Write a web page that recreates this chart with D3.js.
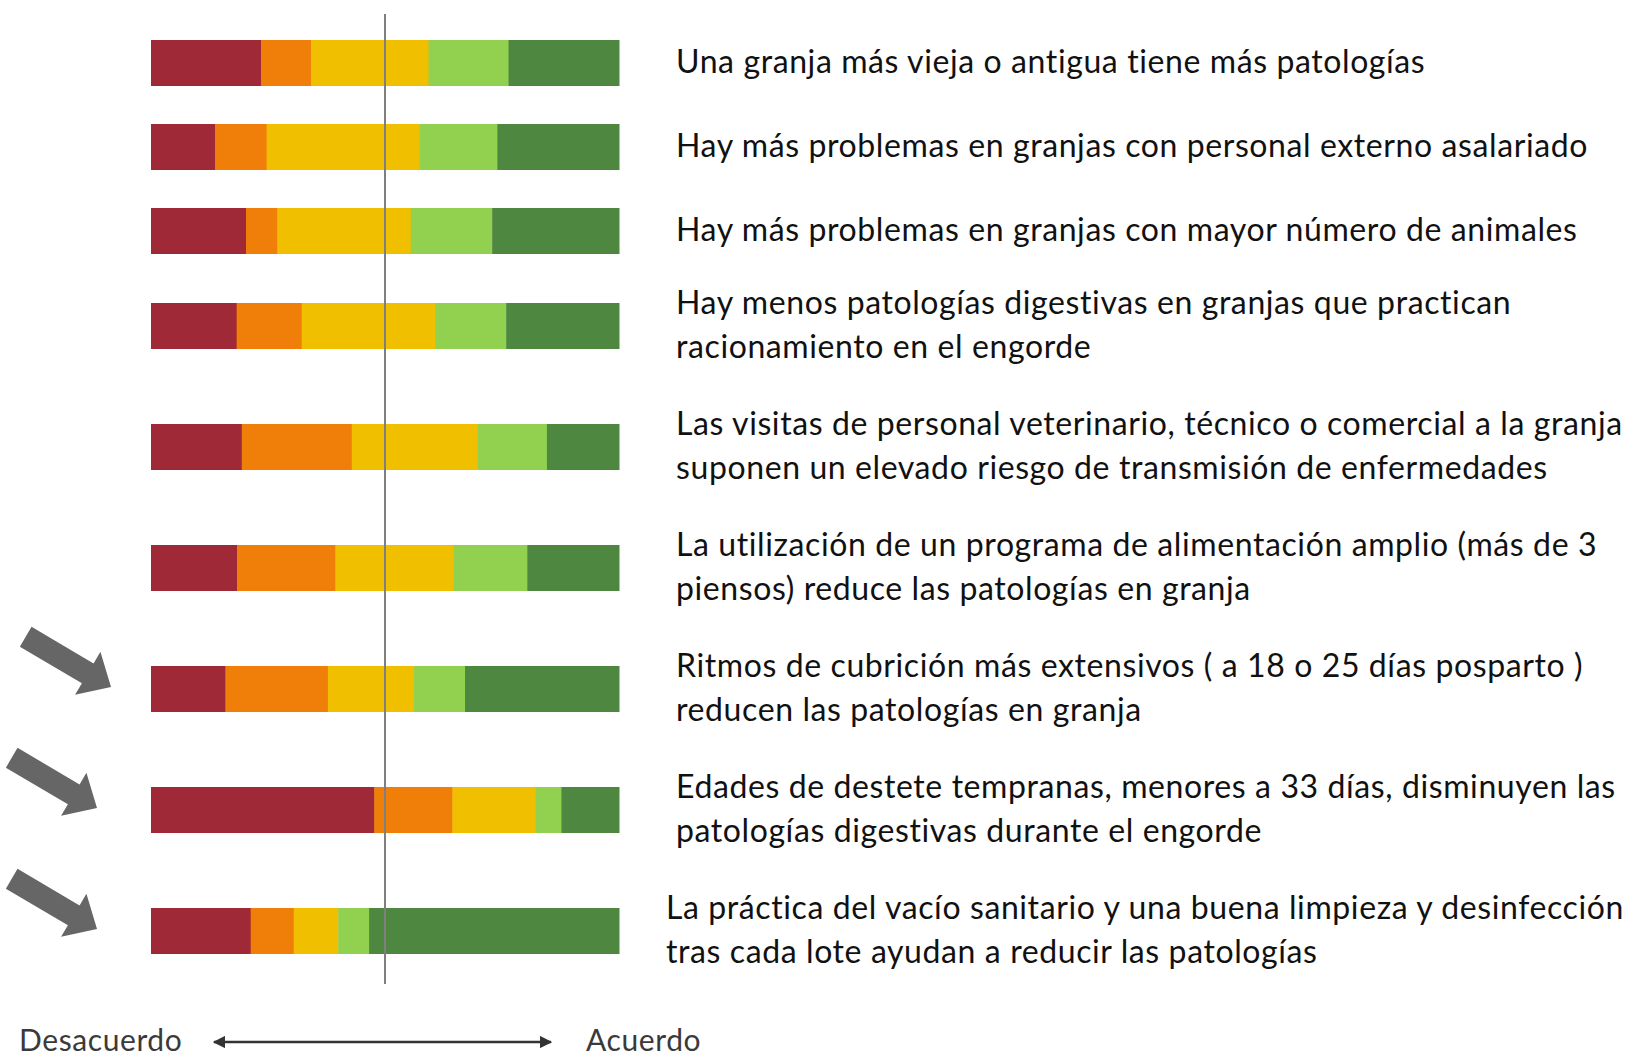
<!DOCTYPE html>
<html>
<head>
<meta charset="utf-8">
<script src="https://cdn.jsdelivr.net/npm/d3@7"></script>
<style>
    body { margin: 0; background: #fff; }
    svg { display: block; }
    .label { font-family: Lato, "Open Sans", sans-serif; fill: #111; letter-spacing: 0.6px; }
    .end-label { font-family: Lato, "Open Sans", sans-serif; fill: #3a3a3a; letter-spacing: 0.6px; }
</style>
</head>
<body>
<svg id="chart" width="1630" height="1057"></svg>
<script>
'use strict';

// response levels, from strong disagreement to strong agreement
const levels = ["Muy en desacuerdo", "En desacuerdo", "Neutral", "De acuerdo", "Muy de acuerdo"];
const levelColors = ["#9f2936", "#f07f09", "#efbf00", "#92d050", "#4e8740"];

// statements (each entry holds the wrapped lines)
const statements = [
    ["Una granja más vieja o antigua tiene más patologías"],
    ["Hay más problemas en granjas con personal externo asalariado"],
    ["Hay más problemas en granjas con mayor número de animales"],
    ["Hay menos patologías digestivas en granjas que practican", "racionamiento en el engorde"],
    ["Las visitas de personal veterinario, técnico o comercial a la granja", "suponen un elevado riesgo de transmisión de enfermedades"],
    ["La utilización de un programa de alimentación amplio (más de 3", "piensos) reduce las patologías en granja"],
    ["Ritmos de cubrición más extensivos ( a 18 o 25 días posparto )", "reducen las patologías en granja"],
    ["Edades de destete tempranas, menores a 33 días, disminuyen las", "patologías digestivas durante el engorde"],
    ["La práctica del vacío sanitario y una buena limpieza y desinfección", "tras cada lote ayudan a reducir las patologías"]
];

// share of answers per level (%), one row per statement
const shares = [
    [23.5, 10.7, 25.1, 17.1, 23.6],
    [13.7, 11.0, 32.7, 16.6, 26.0],
    [20.3, 6.7, 28.5, 17.4, 27.1],
    [18.3, 13.9, 28.5, 15.2, 24.1],
    [19.4, 23.5, 26.8, 14.9, 15.4],
    [18.4, 21.0, 25.2, 15.8, 19.6],
    [15.9, 21.9, 18.4, 10.9, 32.9],
    [47.7, 16.7, 17.7, 5.6, 12.3],
    [21.3, 9.2, 9.5, 6.6, 53.4]
];

// statements marked with an arrow
const highlighted = [6, 7, 8];

const axisLabels = ["Desacuerdo", "Acuerdo"];

const BAR = { height: 46, left: 151, right: 619 };
const FONT = { label: 32, end: 30 };
const LINE_GAP = 43.5;
const BASELINE_SHIFT = 10;

const svg = d3.select('#chart');

const x = d3.scaleLinear()
    .domain([0, 100])
    .range([BAR.left, BAR.right]);

// vertical centre of every row, two-line rows take more room
const rowCenters = [];
let cy = 63;
statements.forEach((lines, i) => {
    if (i > 0) {
        const a = statements[i - 1].length - 1, b = lines.length - 1;
        cy += 84 + 11 * (a + b) + 15 * a * b;
    }
    rowCenters.push(cy);
});

const y = d3.scaleOrdinal()
    .domain(d3.range(statements.length))
    .range(rowCenters);

// stacked segments
const stacked = shares.map((row) => {
    let acc = 0;
    return row.map((v, k) => {
        const seg = { x0: acc, x1: acc + v, level: k };
        acc += v;
        return seg;
    });
});

const rows = svg.append('g')
    .selectAll('g.row')
    .data(stacked)
    .join('g')
    .classed('row', true)
    .attr('transform', (d, i) => `translate(0, ${y(i) - BAR.height / 2})`);

rows.selectAll('rect')
    .data((d) => d)
    .join('rect')
    .attr('x', (d) => x(d.x0))
    .attr('width', (d) => x(d.x1) - x(d.x0) + 0.5)
    .attr('y', 0)
    .attr('height', BAR.height)
    .attr('fill', (d) => levelColors[d.level]);

// neutral reference line
svg.append('line')
    .attr('x1', x(50))
    .attr('x2', x(50))
    .attr('y1', 14)
    .attr('y2', 984)
    .attr('stroke', '#7f7f7f')
    .attr('stroke-width', 2);

// statement texts
const labels = svg.append('g')
    .selectAll('text')
    .data(statements)
    .join('text')
    .classed('label', true)
    .attr('font-size', FONT.label)
    .attr('x', (d, i) => i === statements.length - 1 ? 666 : 676)
    .attr('y', (d, i) => y(i) + BASELINE_SHIFT - (d.length - 1) * LINE_GAP / 2);

labels.selectAll('tspan')
    .data((d) => d)
    .join('tspan')
    .attr('x', function () { return d3.select(this.parentNode).attr('x'); })
    .attr('dy', (d, j) => j === 0 ? 0 : LINE_GAP)
    .text((d) => d);

// thick pointer arrows
const arrowShape = [[-99, -11.5], [-27, -11.5], [-27, -25], [0, 0], [-27, 25], [-27, 11.5], [-99, 11.5]];

svg.append('g')
    .selectAll('polygon')
    .data(highlighted)
    .join('polygon')
    .attr('points', arrowShape.map((p) => p.join(',')).join(' '))
    .attr('fill', '#666666')
    .attr('transform', (d, i) => `translate(${i === 0 ? 111 : 97}, ${y(d) - 2}) rotate(30.5)`);

// bottom scale legend
const defs = svg.append('defs');
defs.append('marker')
    .attr('id', 'head')
    .attr('viewBox', '0 0 10 10')
    .attr('refX', 9)
    .attr('refY', 5)
    .attr('markerWidth', 5)
    .attr('markerHeight', 5)
    .attr('markerUnits', 'strokeWidth')
    .attr('orient', 'auto-start-reverse')
    .append('path')
    .attr('d', 'M0,0 L10,5 L0,10 z')
    .attr('fill', '#333');

const legendY = 1042;

svg.append('line')
    .attr('x1', 214)
    .attr('x2', 551)
    .attr('y1', legendY)
    .attr('y2', legendY)
    .attr('stroke', '#333')
    .attr('stroke-width', 2.5)
    .attr('marker-start', 'url(#head)')
    .attr('marker-end', 'url(#head)');

svg.append('text')
    .classed('end-label', true)
    .attr('font-size', FONT.end)
    .attr('x', 19)
    .attr('y', 1051)
    .text(axisLabels[0]);

svg.append('text')
    .classed('end-label', true)
    .attr('font-size', FONT.end)
    .attr('x', 586)
    .attr('y', 1051)
    .text(axisLabels[1]);
</script>
</body>
</html>
